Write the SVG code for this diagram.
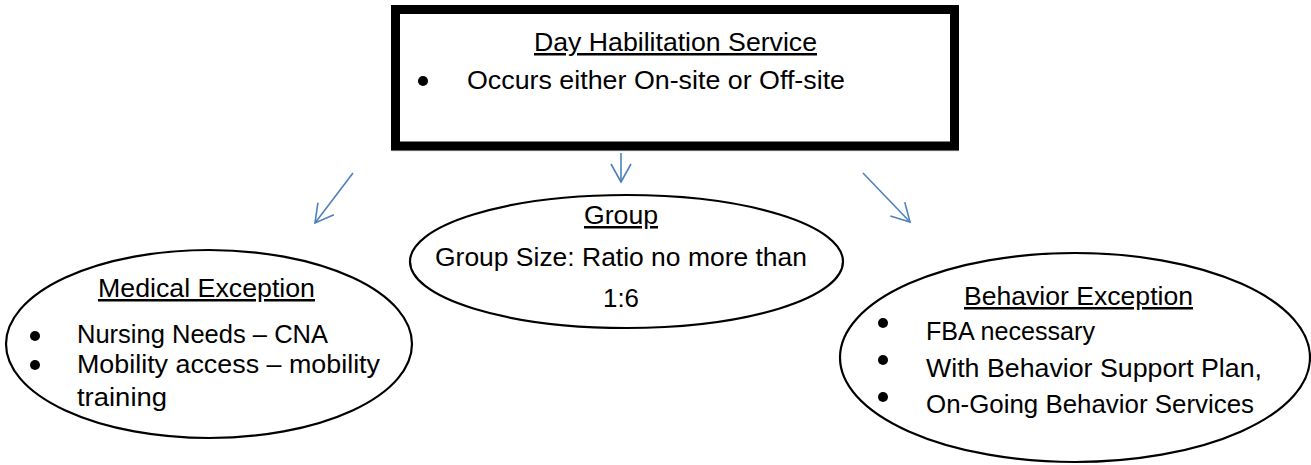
<svg xmlns="http://www.w3.org/2000/svg" width="1311" height="465" viewBox="0 0 1311 465">
<style>
.t{font-family:"Liberation Sans","Open Sans",Arial,sans-serif;font-size:25px;fill:#000}
.u{text-decoration:underline}
.e{fill:#fff;stroke:#000;stroke-width:2.2}
.c{fill:none;stroke:#4F81BD;stroke-width:1.6}
.b{fill:#000}
</style>
<defs>
<marker id="ah" markerUnits="userSpaceOnUse" markerWidth="24" markerHeight="24" viewBox="-20 -12 22 24" refX="0" refY="0" orient="auto">
<path d="M-18,-10 L0,0 L-18,10" fill="none" stroke="#4F81BD" stroke-width="1.6"/>
</marker>
</defs>
<rect width="1311" height="465" fill="#fff"/>
<g id="connectors">
<line class="c" x1="353" y1="173" x2="315" y2="223" marker-end="url(#ah)"/>
<line class="c" x1="621" y1="153" x2="621" y2="182" marker-end="url(#ah)"/>
<line class="c" x1="863" y1="173" x2="910" y2="222" marker-end="url(#ah)"/>
</g>
<g id="day-habilitation">
<line x1="391" y1="150.5" x2="959" y2="150.5" stroke="#c8c8c8" stroke-width="1.5"/>
<rect x="395.5" y="9.5" width="559" height="136.5" fill="#fff" stroke="#000" stroke-width="9"/>
<text class="t u" x="534" y="51" textLength="283" lengthAdjust="spacingAndGlyphs">Day Habilitation Service</text>
<circle class="b" cx="423" cy="81" r="5"/>
<text class="t" x="467" y="89" textLength="378" lengthAdjust="spacingAndGlyphs">Occurs either On-site or Off-site</text>
</g>
<g id="group">
<ellipse class="e" cx="626.5" cy="261.5" rx="216.5" ry="66.5"/>
<text class="t u" x="584" y="224" textLength="74" lengthAdjust="spacingAndGlyphs">Group</text>
<text class="t" x="435" y="266" textLength="372" lengthAdjust="spacingAndGlyphs">Group Size: Ratio no more than</text>
<text class="t" x="603" y="307" textLength="36" lengthAdjust="spacingAndGlyphs">1:6</text>
</g>
<g id="medical-exception">
<ellipse class="e" cx="209" cy="344" rx="203" ry="94"/>
<text class="t u" x="98" y="297" textLength="217" lengthAdjust="spacingAndGlyphs">Medical Exception</text>
<circle class="b" cx="35" cy="336" r="5"/>
<text class="t" x="77" y="343" textLength="251" lengthAdjust="spacingAndGlyphs">Nursing Needs – CNA</text>
<circle class="b" cx="35" cy="365" r="5"/>
<text class="t" x="77" y="373" textLength="303" lengthAdjust="spacingAndGlyphs">Mobility access – mobility</text>
<text class="t" x="77" y="406" textLength="90" lengthAdjust="spacingAndGlyphs">training</text>
</g>
<g id="behavior-exception">
<ellipse class="e" cx="1075" cy="357.5" rx="235" ry="104.5"/>
<text class="t u" x="964" y="305" textLength="229" lengthAdjust="spacingAndGlyphs">Behavior Exception</text>
<circle class="b" cx="883" cy="323" r="5"/>
<text class="t" x="926" y="340" textLength="169" lengthAdjust="spacingAndGlyphs">FBA necessary</text>
<circle class="b" cx="883" cy="360" r="5"/>
<text class="t" x="926" y="377" textLength="336" lengthAdjust="spacingAndGlyphs">With Behavior Support Plan,</text>
<circle class="b" cx="883" cy="397" r="5"/>
<text class="t" x="926" y="413" textLength="328" lengthAdjust="spacingAndGlyphs">On-Going Behavior Services</text>
</g>
</svg>
